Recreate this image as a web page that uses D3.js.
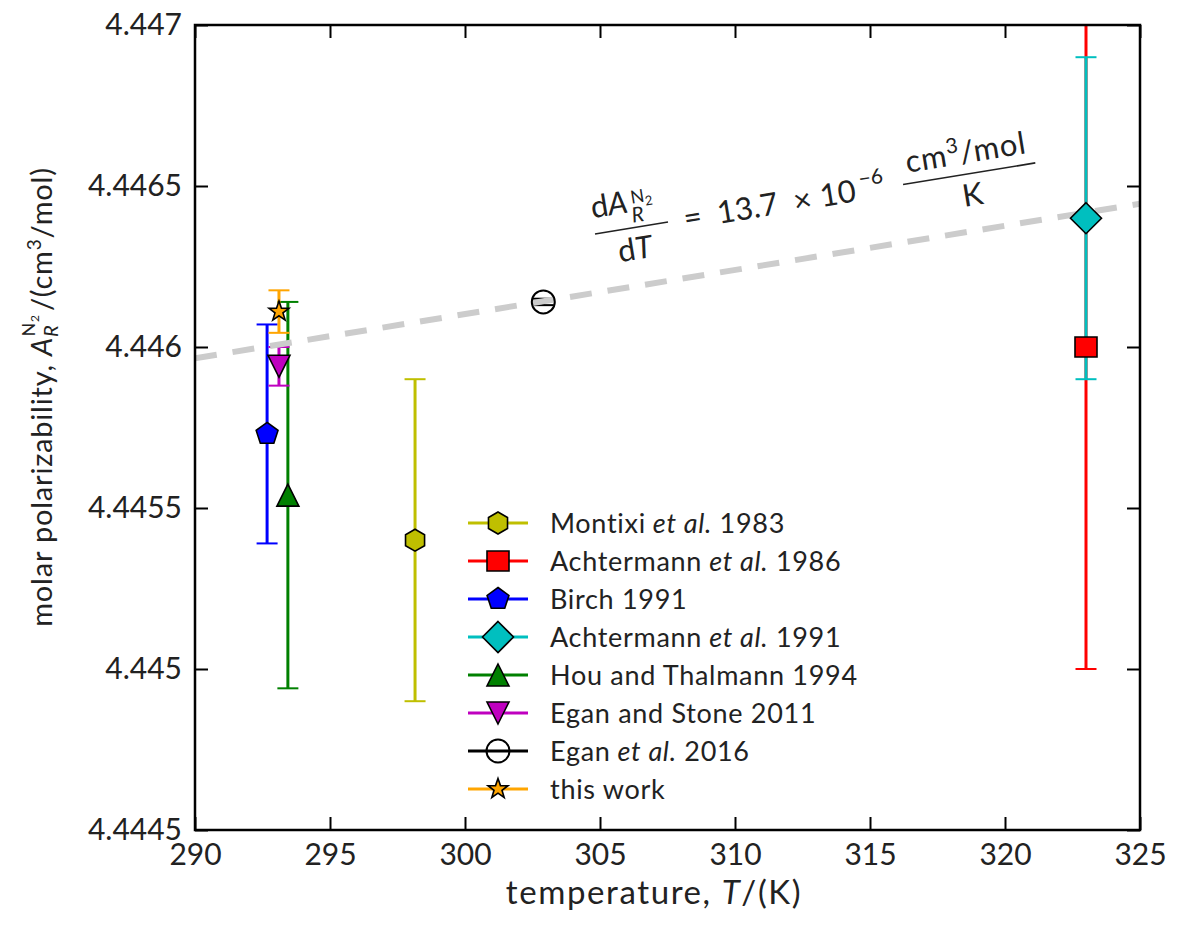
<!DOCTYPE html>
<html>
<head>
<meta charset="utf-8">
<script src="https://cdn.jsdelivr.net/npm/d3@7"></script>
<style>
  body { margin: 0; background: #fff; }
  svg { font-family: Lato, "Open Sans", sans-serif; }
</style>
</head>
<body>
<svg id="chart" width="1182" height="931"></svg>
<script>
// data
const labels = ["Montixi", "Achtermann", "Birch 1991", "Achtermann", "Hou and Thalmann 1994", "Egan and Stone 2011", "Egan", "this work"];
const labelTails = [" 1983", " 1986", "", " 1991", "", "", " 2016", ""];
const italicPart = [true, true, false, true, false, false, true, false];
const temps = [298.15, 323.0, 292.67, 323.0, 293.44, 293.11, 302.9, 293.11];
const values = [4.4454, 4.4460, 4.44573, 4.4464, 4.44554, 4.44594, 4.44614, 4.44611];
const errors = [0.0005, 0.001, 0.00034, 0.0005, 0.0006, 0.00006, 0.00001, 0.000066];
const colors = ["#bfbf00", "#ff0000", "#0000ff", "#00bfbf", "#008000", "#bf00bf", "#000000", "#ffa500"];
const markers = ["hexagon", "square", "pentagon", "diamond", "triangleUp", "triangleDown", "circle", "star"];

// dashed trend line end points
const fitTemps = [290, 325];
const fitValues = [4.445965, 4.446445];

const xTicks = [290, 295, 300, 305, 310, 315, 320, 325];
const yTicks = [4.4445, 4.445, 4.4455, 4.446, 4.4465, 4.447];

const svg = d3.select("#chart");
const marginLeft = 195, marginTop = 25;
const width = 945, height = 805;

const x = d3.scaleLinear().domain([290, 325]).range([0, width]);
const y = d3.scaleLinear().domain([4.4445, 4.447]).range([height, 0]);

const g = svg.append("g").attr("transform", `translate(${marginLeft},${marginTop})`);

svg.append("defs").append("clipPath").attr("id", "plotclip")
  .append("rect").attr("width", width).attr("height", height);

// marker shapes
function polygon(n, r, start) {
  const pts = d3.range(n).map(i => {
    const a = (start + i * 360 / n) * Math.PI / 180;
    return [r * Math.cos(a), r * Math.sin(a)];
  });
  return "M" + pts.map(p => p.join(",")).join("L") + "Z";
}
function markerPath(type) {
  switch (type) {
    case "hexagon": return polygon(6, 11, -90);
    case "pentagon": return polygon(5, 11.5, -90);
    case "square": return "M-11,-10L11,-10L11,10L-11,10Z";
    case "diamond": return "M0,-15.5L15.5,0L0,15.5L-15.5,0Z";
    case "triangleUp": return "M0,-11L11,11L-11,11Z";
    case "triangleDown": return "M0,11L11,-11L-11,-11Z";
    case "circle": return d3.arc()({innerRadius: 0, outerRadius: 11.5, startAngle: 0, endAngle: 2 * Math.PI});
    case "star": {
      const pts = d3.range(10).map(i => {
        const r = i % 2 === 0 ? 10.5 : 4.2;
        const a = (-90 + i * 36) * Math.PI / 180;
        return [r * Math.cos(a), r * Math.sin(a)];
      });
      return "M" + pts.map(p => p.join(",")).join("L") + "Z";
    }
  }
}

const plot = g.append("g").attr("clip-path", "url(#plotclip)");

// error bars
values.forEach((v, i) => {
  const cx = x(temps[i]);
  const bar = plot.append("g").attr("stroke", colors[i]);
  bar.append("line")
    .attr("x1", cx).attr("x2", cx)
    .attr("y1", y(v - errors[i])).attr("y2", y(v + errors[i]))
    .attr("stroke-width", 3);
  [v - errors[i], v + errors[i]].forEach(e => {
    bar.append("line")
      .attr("x1", cx - 10.5).attr("x2", cx + 10.5)
      .attr("y1", y(e)).attr("y2", y(e))
      .attr("stroke-width", 2);
  });
});

// dashed trend
plot.append("path")
  .attr("d", d3.line().x(d => x(d[0])).y(d => y(d[1]))(fitTemps.map((t, i) => [t, fitValues[i]])))
  .attr("fill", "none")
  .attr("stroke", "#cccccc")
  .attr("stroke-width", 6)
  .attr("stroke-dasharray", "22,16");

// markers
plot.selectAll(".marker")
  .data(values).enter().append("path")
  .attr("class", "marker")
  .attr("transform", (d, i) => `translate(${x(temps[i])},${y(d)})`)
  .attr("d", (d, i) => markerPath(markers[i]))
  .attr("fill", (d, i) => markers[i] === "circle" ? "none" : colors[i])
  .attr("stroke", "#000")
  .attr("stroke-width", (d, i) => markers[i] === "circle" ? 2 : 1.6);

// axes, ticks inward on all four sides
const tickStyle = sel => {
  sel.select(".domain").remove();
  sel.selectAll("line").attr("stroke", "#000").attr("stroke-width", 2);
  sel.selectAll("text").attr("font-size", 30).attr("fill", "#222").attr("font-family", "Lato, sans-serif");
};
g.append("g").attr("transform", `translate(0,${height})`)
  .call(d3.axisBottom(x).tickValues(xTicks).tickSize(-13).tickPadding(14).tickFormat(d3.format("d")))
  .call(tickStyle);
g.append("g")
  .call(d3.axisTop(x).tickValues(xTicks).tickSize(-13).tickFormat(""))
  .call(tickStyle);
g.append("g")
  .call(d3.axisLeft(y).tickValues(yTicks).tickSize(-13).tickPadding(13).tickFormat(d => d3.format(".5~f")(d)))
  .call(tickStyle);
g.append("g").attr("transform", `translate(${width},0)`)
  .call(d3.axisRight(y).tickValues(yTicks).tickSize(-13).tickFormat(""))
  .call(tickStyle);

g.append("rect")
  .attr("width", width).attr("height", height)
  .attr("fill", "none").attr("stroke", "#000").attr("stroke-width", 2.5);

// axis titles
svg.append("text")
  .attr("x", 654)
  .attr("y", 904)
  .attr("text-anchor", "middle")
  .attr("font-size", 33)
  .attr("letter-spacing", 1.6)
  .attr("fill", "#222")
  .call(t => {
    t.append("tspan").text("temperature, ");
    t.append("tspan").attr("font-style", "italic").text("T");
    t.append("tspan").text("/(K)");
  });

svg.append("text")
  .attr("transform", "translate(52,397) rotate(-90)")
  .attr("text-anchor", "middle")
  .attr("font-size", 29)
  .attr("letter-spacing", 0.8)
  .attr("fill", "#222")
  .call(t => {
    t.append("tspan").text("molar polarizability, ");
    t.append("tspan").attr("font-style", "italic").text("A");
    t.append("tspan").attr("font-style", "italic").attr("font-size", 20).attr("dy", 6).text("R");
    t.append("tspan").attr("font-size", 18).attr("dx", -12).attr("dy", -23).text("N");
    t.append("tspan").attr("font-size", 12).attr("dy", 4).text("2");
    t.append("tspan").attr("dy", 13).attr("dx", 3).text("/(cm");
    t.append("tspan").attr("font-size", 19).attr("dy", -11).text("3");
    t.append("tspan").attr("dy", 11).text("/mol)");
  });

// slope annotation, rotated along the trend line
const ann = svg.append("g")
  .attr("transform", "translate(595,234) rotate(-9.3)")
  .attr("fill", "#222")
  .attr("font-size", 31);

ann.append("line").attr("x1", 0).attr("x2", 74).attr("y1", 0).attr("y2", 0)
  .attr("stroke", "#222").attr("stroke-width", 1.6);
ann.append("text").attr("x", 0).attr("y", -16)
  .call(t => {
    t.append("tspan").text("d");
    t.append("tspan").attr("font-style", "italic").text("A");
  });
ann.append("text").attr("x", 39).attr("y", -5).attr("font-size", 21).attr("font-style", "italic").text("R");
ann.append("text").attr("x", 41).attr("y", -24).attr("font-size", 18)
  .call(t => {
    t.append("tspan").text("N");
    t.append("tspan").attr("font-size", 13).attr("dy", 4).text("2");
  });
ann.append("text").attr("x", 37).attr("y", 32).attr("text-anchor", "middle")
  .call(t => {
    t.append("tspan").text("d");
    t.append("tspan").attr("font-style", "italic").text("T");
  });
ann.append("text").attr("x", 99).attr("y", 10).attr("text-anchor", "middle").text("=");
ann.append("text").attr("x", 124).attr("y", 10).text("13.7");
ann.append("text").attr("x", 210).attr("y", 11).attr("text-anchor", "middle").text("×");
ann.append("text").attr("x", 264).attr("y", 10).attr("text-anchor", "end").text("10");
ann.append("text").attr("x", 269).attr("y", -4).attr("font-size", 21).text("−6");
ann.append("line").attr("x1", 312).attr("x2", 446).attr("y1", 1).attr("y2", 1)
  .attr("stroke", "#222").attr("stroke-width", 1.6);
ann.append("text").attr("x", 379).attr("y", -10).attr("text-anchor", "middle").attr("letter-spacing", 0.8)
  .call(t => {
    t.append("tspan").text("cm");
    t.append("tspan").attr("font-size", 21).attr("dy", -12).text("3");
    t.append("tspan").attr("dy", 12).text("/mol");
  });
ann.append("text").attr("x", 379).attr("y", 33).attr("text-anchor", "middle").text("K");

// legend
const legend = svg.append("g").attr("transform", "translate(468,523)");
const rows = legend.selectAll(".legend-item")
  .data(labels).enter().append("g")
  .attr("class", "legend-item")
  .attr("transform", (d, i) => `translate(0,${i * 38})`);
rows.append("line")
  .attr("x1", 0).attr("x2", 60)
  .attr("stroke", (d, i) => colors[i]).attr("stroke-width", 3);
rows.append("path")
  .attr("transform", "translate(30,0)")
  .attr("d", (d, i) => markerPath(markers[i]))
  .attr("fill", (d, i) => markers[i] === "circle" ? "none" : colors[i])
  .attr("stroke", "#000")
  .attr("stroke-width", (d, i) => markers[i] === "circle" ? 2 : 1.6);
rows.append("text")
  .attr("x", 82).attr("y", 10)
  .attr("font-size", 27)
  .attr("letter-spacing", 0.7)
  .attr("fill", "#222")
  .each(function (d, i) {
    const t = d3.select(this);
    t.append("tspan").text(d);
    if (italicPart[i]) t.append("tspan").attr("font-style", "italic").text(" et al.");
    t.append("tspan").text(labelTails[i]);
  });
</script>
</body>
</html>
